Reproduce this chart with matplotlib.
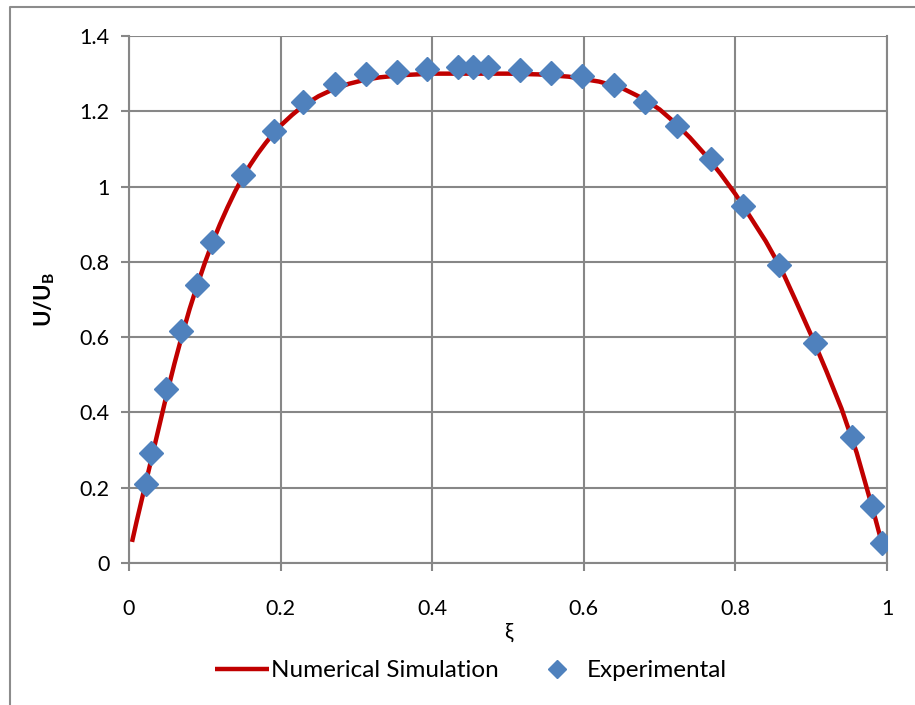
import numpy as np
import matplotlib.pyplot as plt
from matplotlib.lines import Line2D

plt.rcParams['font.family'] = ['Lato', 'DejaVu Sans']
plt.rcParams['mathtext.fontset'] = 'custom'
plt.rcParams['mathtext.rm'] = 'Lato'
plt.rcParams['mathtext.bf'] = 'Lato:bold'

# numerical simulation profile
xi_sim = [0.004, 0.01, 0.02, 0.03, 0.04, 0.05, 0.06, 0.07, 0.08, 0.09, 0.10,
          0.11, 0.12, 0.13, 0.14, 0.15, 0.16, 0.17, 0.18, 0.19, 0.20, 0.215,
          0.23, 0.25, 0.27, 0.29, 0.31, 0.33, 0.36, 0.40, 0.45, 0.50, 0.54,
          0.58, 0.62, 0.65, 0.68, 0.70, 0.72, 0.74, 0.76, 0.78, 0.80, 0.82,
          0.84, 0.86, 0.88, 0.90, 0.92, 0.94, 0.96, 0.975, 0.985, 0.995]
u_sim = [0.056, 0.110, 0.195, 0.280, 0.365, 0.450, 0.530, 0.605, 0.675, 0.738, 0.797,
         0.851, 0.900, 0.945, 0.987, 1.025, 1.058, 1.088, 1.115, 1.140, 1.162, 1.190,
         1.215, 1.240, 1.259, 1.273, 1.283, 1.290, 1.296, 1.300, 1.300, 1.300, 1.298,
         1.292, 1.279, 1.262, 1.232, 1.205, 1.170, 1.130, 1.085, 1.035, 0.980, 0.918,
         0.855, 0.783, 0.695, 0.605, 0.510, 0.410, 0.293, 0.187, 0.115, 0.040]

# experimental measurements
xi_exp = [0.022, 0.029, 0.049, 0.069, 0.090, 0.110, 0.150, 0.191, 0.230, 0.272,
          0.313, 0.354, 0.393, 0.434, 0.454, 0.474, 0.516, 0.557, 0.598, 0.640,
          0.681, 0.723, 0.768, 0.810, 0.858, 0.905, 0.954, 0.980, 0.993]
u_exp = [0.210, 0.292, 0.462, 0.616, 0.739, 0.853, 1.031, 1.148, 1.225, 1.273,
         1.299, 1.304, 1.312, 1.318, 1.318, 1.318, 1.310, 1.302, 1.294, 1.270,
         1.225, 1.161, 1.073, 0.948, 0.792, 0.584, 0.335, 0.151, 0.053]

fig = plt.figure(figsize=(9.15, 7.05), dpi=100)
ax = fig.add_axes([129/915, 1 - 563/705, 758/915, 527/705])

gray = '#878787'
ax.plot(xi_sim, u_sim, color='#C00000', lw=3.2, label='Numerical Simulation',
        solid_capstyle='butt', solid_joinstyle='round', zorder=3)
ax.plot(xi_exp, u_exp, ls='none', marker='D', ms=12, color='#4F81BD',
        markeredgecolor='#4F81BD', label='Experimental', zorder=4)

ax.set_xlim(0, 1)
ax.set_ylim(0, 1.4)
ax.set_xticks(np.arange(0, 1.01, 0.2))
ax.set_yticks(np.arange(0, 1.41, 0.2))
ax.set_xticklabels(['0', '0.2', '0.4', '0.6', '0.8', '1'])
ax.set_yticklabels(['0', '0.2', '0.4', '0.6', '0.8', '1', '1.2', '1.4'])
ax.grid(True, color=gray, lw=1.5)
ax.set_axisbelow(True)
for s in ax.spines.values():
    s.set_color(gray)
    s.set_linewidth(1.5)
ax.spines['top'].set_visible(False)
ax.tick_params(axis='both', colors=gray, labelcolor='black', labelsize=15.5,
               width=1.5, length=6, direction='out')
ax.tick_params(axis='x', pad=20)
ax.tick_params(axis='y', pad=8)

ax.set_xlabel('ξ', fontsize=15.5, labelpad=2)
ax.set_ylabel(r'$\mathbf{U/U_B}$', fontsize=16, labelpad=16)

ax.legend(loc='upper center', bbox_to_anchor=(0.451, -0.143), ncol=2,
          frameon=False, fontsize=17.5, handlelength=2.2, handletextpad=0.1,
          columnspacing=1.3, markerscale=0.75)

# outer chart frame
fig.add_artist(Line2D([9.5/915, 9.5/915, 1], [0, 1 - 6.5/705, 1 - 6.5/705],
                      color='#8C8C8C', lw=1.5, transform=fig.transFigure))

fig.savefig('out.png', dpi=100)
